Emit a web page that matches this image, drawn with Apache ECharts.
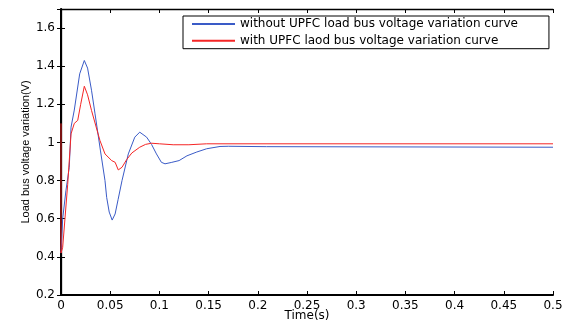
<!DOCTYPE html>
<html lang="en">

<head>
    <meta charset="UTF-8">
    <title>Load bus voltage</title>
    <script src="https://cdn.jsdelivr.net/npm/echarts@6/dist/echarts.min.js"></script>
    <style>
        body { margin: 0; background: #fff; }
    </style>
</head>

<body>
    <div id="main" style="width: 563px;height: 331px;"></div>
    <script>
        // without UPFC (blue)
        var tBlue = [0, 0.0017, 0.005, 0.0084, 0.0102, 0.0135, 0.019, 0.0237, 0.027, 0.031, 0.0346, 0.040, 0.0447, 0.0464, 0.049, 0.052, 0.055, 0.058, 0.062, 0.0684, 0.075, 0.080, 0.087, 0.092, 0.097, 0.102, 0.1057, 0.112, 0.12, 0.128, 0.138, 0.148, 0.1616, 0.17, 0.209, 0.21, 0.5]
        var vBlue = [0.42, 0.6, 0.747, 0.87, 1.08, 1.17, 1.36, 1.43, 1.39, 1.274, 1.15, 0.96, 0.8, 0.712, 0.635, 0.593, 0.625, 0.70, 0.8, 0.94, 1.028, 1.054, 1.028, 0.99, 0.94, 0.896, 0.888, 0.895, 0.905, 0.93, 0.95, 0.967, 0.979, 0.98, 0.978, 0.975, 0.975]
        // with UPFC (red)
        var tRed = [0, 0, 0.0017, 0.0068, 0.0102, 0.0135, 0.017, 0.02, 0.0237, 0.027, 0.031, 0.0396, 0.0447, 0.0515, 0.055, 0.0582, 0.062, 0.0667, 0.072, 0.08, 0.086, 0.092, 0.1, 0.114, 0.13, 0.148, 0.5]
        var vRed = [1.1, 0.42, 0.45, 0.78, 1.045, 1.1, 1.116, 1.2, 1.295, 1.25, 1.168, 1.01, 0.94, 0.905, 0.896, 0.856, 0.87, 0.91, 0.945, 0.975, 0.99, 0.996, 0.993, 0.988, 0.988, 0.993, 0.993]

        var names = ['without UPFC load bus voltage variation curve', 'with UPFC laod bus voltage variation curve']

        function pairs(t, v) {
            return t.map(function(x, i) { return [x, v[i]] })
        }

        var font = 'DejaVu Sans'
        var mCharts = echarts.init(document.getElementById('main'))

        var axisBase = {
            type: 'value',
            splitLine: { show: false },
            axisTick: { inside: true, length: 4, lineStyle: { color: '#000' } }
        }

        var option = {
            backgroundColor: '#fff',
            animation: false,
            grid: { left: 61, right: 10, top: 9, bottom: 36, outerBoundsMode: 'none' },
            legend: {
                data: names,
                orient: 'vertical',
                left: 183,
                top: 16,
                padding: [2, 31, 2, 8],
                itemWidth: 43,
                itemHeight: 12,
                itemGap: 4.7,
                itemStyle: { opacity: 0 }, // hide the symbol, keep the line
                borderColor: '#000',
                borderWidth: 1,
                backgroundColor: '#fff',
                textStyle: { fontFamily: font, fontSize: 12, color: '#000' }
            },
            xAxis: [
                Object.assign({}, axisBase, {
                    position: 'bottom',
                    min: 0, max: 0.5, interval: 0.05,
                    name: 'Time(s)',
                    nameLocation: 'middle',
                    nameGap: 15,
                    nameMoveOverlap: false,
                    nameTextStyle: { fontFamily: font, fontSize: 12, color: '#000' },
                    axisLine: { lineStyle: { color: '#000', width: 2 } },
                    axisLabel: { fontFamily: font, fontSize: 12, color: '#000', margin: 5 }
                }),
                Object.assign({}, axisBase, {
                    position: 'top',
                    min: 0, max: 0.5, interval: 0.05,
                    axisLine: { lineStyle: { color: '#000', width: 1.3 } },
                    axisLabel: { show: false }
                })
            ],
            yAxis: [
                Object.assign({}, axisBase, {
                    position: 'left',
                    min: 0.2, max: 1.7, interval: 0.2,
                    name: 'Load bus voltage variation(V)',
                    nameLocation: 'middle',
                    nameGap: 30,
                    nameMoveOverlap: false,
                    nameTextStyle: { fontFamily: 'Liberation Sans', fontSize: 11, color: '#000' },
                    axisLine: { lineStyle: { color: '#000', width: 2 } },
                    axisLabel: { fontFamily: font, fontSize: 12, color: '#000', margin: 6, showMaxLabel: false }
                }),
                Object.assign({}, axisBase, {
                    position: 'right',
                    min: 0.2, max: 1.7, interval: 0.2,
                    axisLine: { lineStyle: { color: '#000', width: 1.3 } },
                    axisLabel: { show: false }
                })
            ],
            series: [{
                    name: names[0],
                    type: 'line',
                    symbol: 'none',
                    data: pairs(tBlue, vBlue),
                    lineStyle: { color: '#3a5bc7', width: 1 },
                    itemStyle: { color: '#3a5bc7' }
                },
                {
                    name: names[1],
                    type: 'line',
                    symbol: 'none',
                    data: pairs(tRed, vRed),
                    lineStyle: { color: '#f52525', width: 1 },
                    itemStyle: { color: '#f52525' }
                }
            ]
        }
        mCharts.setOption(option)
    </script>
</body>

</html>
